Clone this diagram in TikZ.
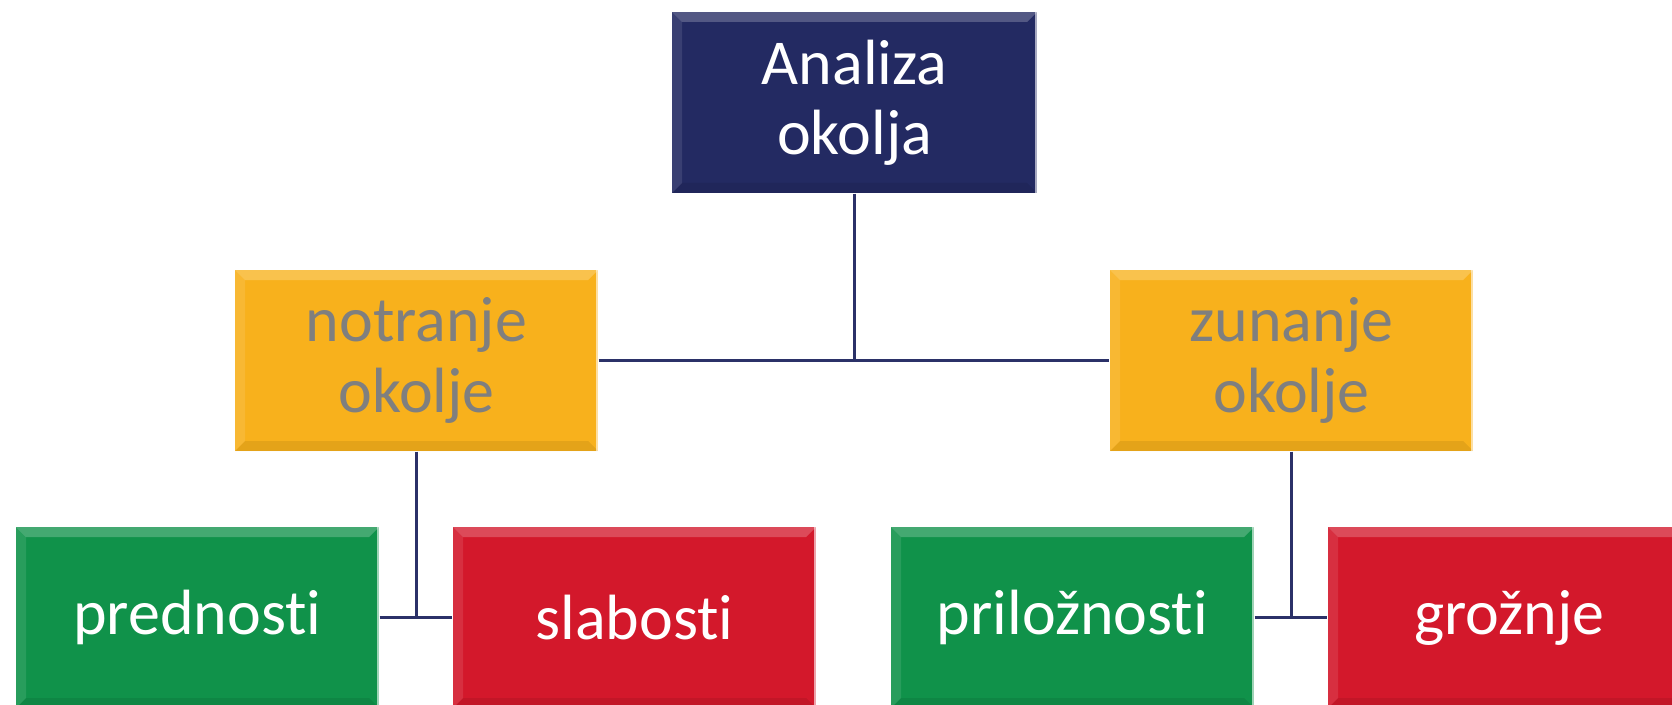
\documentclass[tikz,border=0pt]{standalone}
\usepackage{fontspec}
\setmainfont[Ligatures=NoCommon]{Carlito}
\usepackage{tikz}
\usetikzlibrary{positioning,calc}

\definecolor{navy}{HTML}{232A62}
\definecolor{linenavy}{HTML}{2B3168}
\definecolor{amber}{HTML}{F8B11C}
\definecolor{leaf}{HTML}{10924A}
\definecolor{crimson}{HTML}{D3182B}
\definecolor{greytext}{HTML}{7F7F7F}

\begin{document}
\begin{tikzpicture}[
    box/.style={rectangle, inner sep=0pt, minimum width=3.63cm, minimum height=1.81cm,
        align=center, font=\fontsize{18.2}{20}\selectfont,
        path picture={
            % bevel: light top band, dark bottom band
            \fill[white, opacity=0.22] (path picture bounding box.north west) -- (path picture bounding box.north east)
                -- ([xshift=-0.1cm,yshift=-0.1cm]path picture bounding box.north east)
                -- ([xshift=0.1cm,yshift=-0.1cm]path picture bounding box.north west) -- cycle;
            \fill[white, opacity=0.10] (path picture bounding box.north west) -- ([xshift=0.1cm,yshift=-0.1cm]path picture bounding box.north west)
                -- ([xshift=0.1cm,yshift=0.1cm]path picture bounding box.south west) -- (path picture bounding box.south west) -- cycle;
            \fill[black, opacity=0.08] (path picture bounding box.south west) -- (path picture bounding box.south east)
                -- ([xshift=-0.1cm,yshift=0.1cm]path picture bounding box.south east)
                -- ([xshift=0.1cm,yshift=0.1cm]path picture bounding box.south west) -- cycle;
            \draw[white, opacity=0.6, line width=1.2pt] (path picture bounding box.north east) -- (path picture bounding box.south east);
        }},
    topbox/.style={box, fill=navy, text=white, minimum width=3.65cm},
    midbox/.style={box, fill=amber, text=greytext},
    goodbox/.style={box, fill=leaf, text=white},
    badbox/.style={box, fill=crimson, text=white},
    link/.style={linenavy, line width=0.85pt}
]
    \useasboundingbox (0,0) rectangle (16.72,7.04);
    \clip (0,0) rectangle (16.72,7.04);

    % Top level
    \node[topbox] (analiza) at (8.545, 6.015) {Analiza\\okolja};

    % Second level
    \node[midbox] (notranje) at (4.165, 3.435) {notranje\\okolje};
    \node[midbox] (zunanje) at (12.915, 3.435) {zunanje\\okolje};

    % Third level
    \node[goodbox] (prednosti) at (1.975, 0.865) {prednosti};
    \node[badbox] (slabosti) at (6.345, 0.865) {slabosti};
    \node[goodbox] (priloznosti) at (10.725, 0.865) {priložnosti};
    \node[badbox] (groznje) at (15.095, 0.865) {grožnje};

    % Connectors
    \draw[link] (analiza.south) -- (analiza.south |- notranje.east);
    \draw[link] (notranje.east) -- (zunanje.west);
    \draw[link] (notranje.south) -- (notranje.south |- prednosti.east);
    \draw[link] (prednosti.east) -- (slabosti.west);
    \draw[link] (zunanje.south) -- (zunanje.south |- priloznosti.east);
    \draw[link] (priloznosti.east) -- (groznje.west);
\end{tikzpicture}
\end{document}
